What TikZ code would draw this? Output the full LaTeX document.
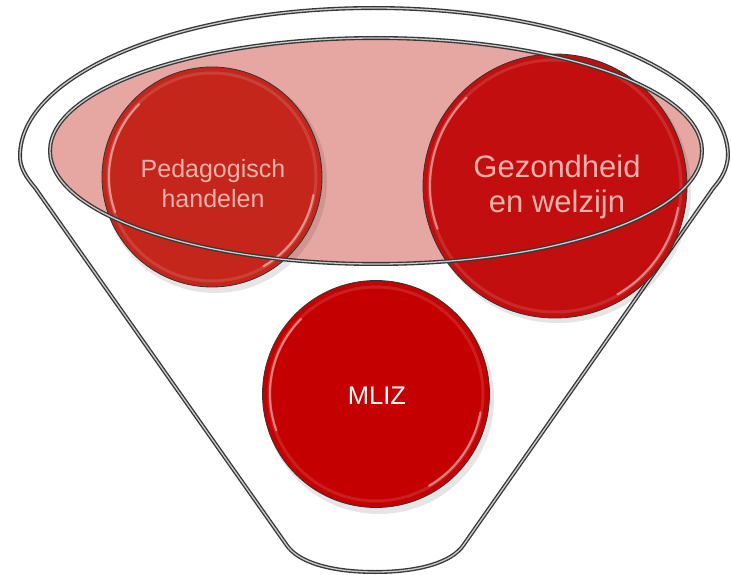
\documentclass[tikz,border=0pt]{standalone}
\usepackage{fontspec}
\setmainfont{Liberation Sans}
\definecolor{pedred}{RGB}{196,38,28}
\definecolor{gezred}{RGB}{194,14,14}
\definecolor{mlizred}{RGB}{196,0,0}
\definecolor{pinkfill}{RGB}{230,166,162}
\definecolor{txtpink}{RGB}{240,178,170}
\definecolor{linegray}{RGB}{55,55,55}
\begin{document}
\begin{tikzpicture}[x=1pt,y=-1pt,
  dbl/.style={draw=linegray, line width=1.35pt, double=white!80!black, double distance=1.3pt},
  ball/.style={circle, draw=black!80, line width=0.8pt, inner sep=0pt},
  shadowball/.style={fill=black, opacity=0.10},
  gloss/.style={draw=white, opacity=0.45, line width=2.2pt, line cap=round},
  rim/.style={draw=white, opacity=0.12, line width=3pt},
  lbl/.style={anchor=base, inner sep=0pt}]
\useasboundingbox (0,0) rectangle (731,575);
\fill[white] (0,0) rectangle (731,575);

% funnel outline
\draw[dbl] (20,156) arc[start angle=180, end angle=360, x radius=354, y radius=148]
  .. controls (727,168) and (723,177) .. (713.4,188) -- (463.5,545)
  .. controls (452,562) and (420,572) .. (375,572)
  .. controls (330,572) and (298,562) .. (286.6,545)
  -- (35.2,188) .. controls (26,177) and (20,168) .. cycle;

% pink ellipse fill
\fill[pinkfill] (376,151) ellipse[x radius=326, y radius=113];

% shadows
\fill[shadowball] (215,181) circle[radius=112];
\fill[shadowball] (558,190) circle[radius=133];
\fill[shadowball] (379,399) circle[radius=115];

% balls
\node[ball, fill=pedred, minimum size=220] (ped) at (212,177) {};
\node[ball, fill=gezred, minimum size=264] (gez) at (555,186) {};
\node[ball, fill=mlizred, minimum size=227] (mliz) at (376,394) {};

% gloss
\draw[rim] (ped.center) circle[radius=104];
\draw[rim] (gez.center) circle[radius=126];
\draw[rim] (mliz.center) circle[radius=107];
\draw[gloss] ([shift={(160:103)}]ped.center) arc[start angle=160, end angle=225, radius=103];
\draw[gloss] ([shift={(10:103)}]ped.center) arc[start angle=10, end angle=60, radius=103];
\draw[gloss] ([shift={(160:125)}]gez.center) arc[start angle=160, end angle=225, radius=125];
\draw[gloss] ([shift={(10:125)}]gez.center) arc[start angle=10, end angle=60, radius=125];
\draw[gloss] ([shift={(160:106)}]mliz.center) arc[start angle=160, end angle=225, radius=106];
\draw[gloss] ([shift={(10:106)}]mliz.center) arc[start angle=10, end angle=60, radius=106];

% ellipse outline
\draw[dbl] (376,151) ellipse[x radius=326, y radius=113];

% labels
\node[lbl, text=txtpink, font=\fontsize{25}{30}\selectfont] (ped1) at (213,177) {Pedagogisch};
\node[lbl, text=txtpink, font=\fontsize{25}{30}\selectfont] (ped2) at (213,207) {handelen};
\node[lbl, text=txtpink, font=\fontsize{31}{34}\selectfont] (gez1) at (557,178) {Gezondheid};
\node[lbl, text=txtpink, font=\fontsize{31}{34}\selectfont] (gez2) at (557,212) {en welzijn};
\node[lbl, text=white, font=\fontsize{25.5}{30}\selectfont] (mliz1) at (377,404) {MLIZ};
\end{tikzpicture}
\end{document}
